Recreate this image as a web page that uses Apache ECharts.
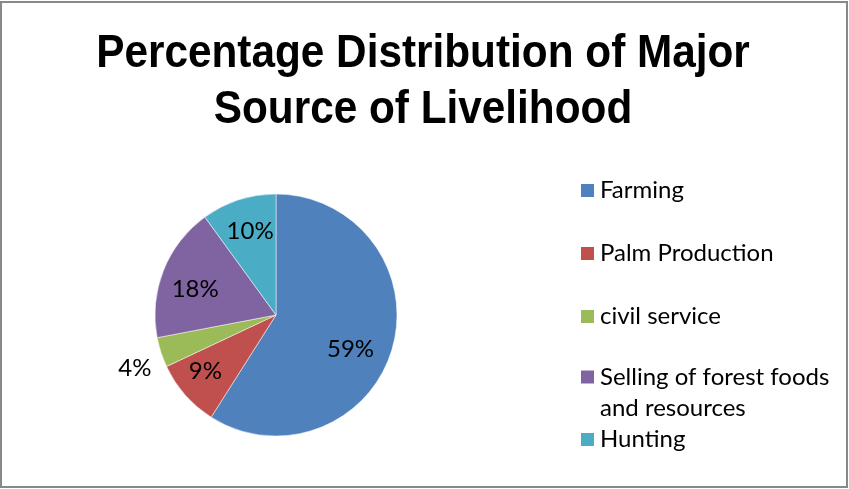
<!DOCTYPE html>
<html>
<head>
<meta charset="utf-8">
<script src="https://cdn.jsdelivr.net/npm/echarts@6/dist/echarts.min.js"></script>
<style>
html,body{margin:0;padding:0;background:#fff;}
#c{width:849px;height:489px;}
</style>
</head>
<body>
<div id="c"></div>
<script>
const titleText = 'Percentage Distribution of Major\nSource of Livelihood';
const categories = ['Farming', 'Palm Production', 'civil service', 'Selling of forest foods\nand resources', 'Hunting'];
const values = [59, 9, 4, 18, 10];
const colors = ['#4F81BD', '#C0504D', '#9BBB59', '#8064A2', '#4BACC6'];

const chart = echarts.init(document.getElementById('c'), null, {renderer: 'canvas'});
const R = 121;
const center = [276, 315];
const labelFont = {fontFamily: 'Lato', fontSize: 24, color: '#000'};
const labelOffsets = [[-12, 9], [-3, -3], [0, 13], [3, 7], [2, 2]];

const pieData = categories.map((n, i) => ({name: n, value: values[i], itemStyle: {color: colors[i]}}));
const labelData = categories.map((n, i) => {
  const outside = values[i] < 5;
  return {
    name: n, value: values[i],
    label: outside ? {position: 'outside', distanceToLabelLine: 0, offset: labelOffsets[i]}
                   : {position: 'inside', offset: labelOffsets[i]},
    labelLine: {show: false, length: 10, length2: 0}
  };
});

const legendCommon = {
  orient: 'vertical', left: 579, padding: 0,
  itemWidth: 15, itemHeight: 15, itemGap: 32, itemTextGap: 6,
  icon: 'rect', selectedMode: false,
  textStyle: {fontFamily: 'Lato', fontSize: 24, color: '#000', lineHeight: 31}
};

chart.setOption({
  animation: false,
  legend: [
    Object.assign({}, legendCommon, {top: 175, data: categories.slice(0, 3)}),
    Object.assign({}, legendCommon, {top: 330.5, data: [categories[3]], formatter: n => ' \n' + n}),
    Object.assign({}, legendCommon, {top: 424, data: [categories[4]]})
  ],
  graphic: [
    {
      type: 'rect', silent: true, z: -1,
      shape: {x: 1, y: 2, width: 846, height: 485},
      style: {fill: 'none', stroke: '#888', lineWidth: 2}
    },
    {
      type: 'text', silent: true, x: 423, y: 26, scaleX: 0.92,
      style: {
        text: titleText, fill: '#000', align: 'center', verticalAlign: 'top',
        font: 'bold 46px "Liberation Sans", Arial, sans-serif', lineHeight: 56
      }
    }
  ],
  series: [
    {
      type: 'pie', center: center, radius: [0, R], startAngle: 90, clockwise: true,
      data: pieData, label: {show: false}, labelLine: {show: false},
      itemStyle: {borderColor: '#fff', borderWidth: 0.5},
      emphasis: {disabled: true}, silent: true
    },
    {
      type: 'pie', center: center, radius: [R * 0.44, R], startAngle: 90, clockwise: true,
      data: labelData, silent: true, percentPrecision: 0,
      itemStyle: {color: 'transparent'},
      label: Object.assign({show: true, formatter: '{d}%'}, labelFont),
      emphasis: {disabled: true}, legendHoverLink: false,
      avoidLabelOverlap: false
    }
  ]
});
</script>
</body>
</html>
